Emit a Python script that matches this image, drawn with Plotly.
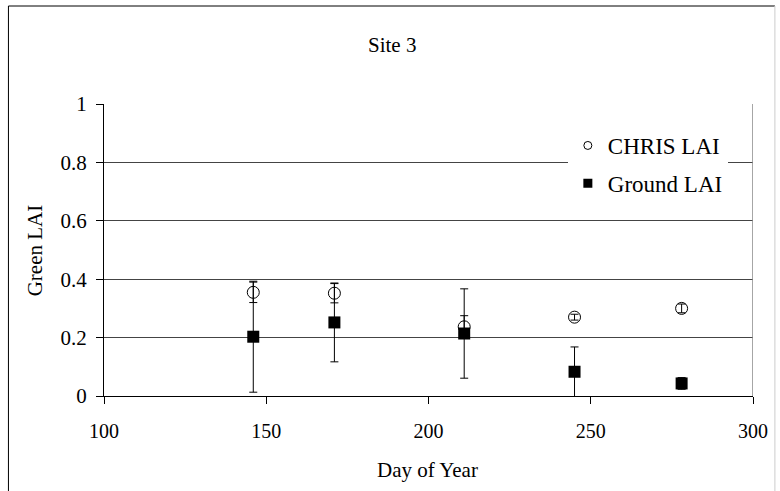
import plotly.graph_objects as go

days = [146, 171, 211, 245, 278]
chris_lai = [0.355, 0.352, 0.237, 0.27, 0.30]
chris_err = [0.035, 0.033, 0.038, 0.01, 0.015]
ground_lai = [0.203, 0.252, 0.214, 0.083, 0.043]
ground_err = [0.19, 0.135, 0.153, 0.085, 0.02]

x_ticks = [100, 150, 200, 250, 300]
y_ticks = [0, 0.2, 0.4, 0.6, 0.8, 1]

FONT = "Times New Roman"

fig = go.Figure()
fig.add_trace(go.Scatter(
    x=days, y=chris_lai, mode="markers", name="CHRIS LAI",
    showlegend=False,
    marker=dict(symbol="circle-open", size=12, color="black", line=dict(width=1, color="black")),
    error_y=dict(type="data", array=chris_err, visible=True, color="black", thickness=1, width=4),
))
fig.add_trace(go.Scatter(
    x=days, y=ground_lai, mode="markers", name="Ground LAI",
    showlegend=False,
    marker=dict(symbol="square", size=12, color="black"),
    error_y=dict(type="data", array=ground_err, visible=True, color="black", thickness=1, width=4),
))
# legend entries (smaller symbols, as in the reference legend)
fig.add_trace(go.Scatter(
    x=[None], y=[None], mode="markers", name="CHRIS LAI", legendgroup="a",
    marker=dict(symbol="circle-open", size=8, color="black", line=dict(width=1, color="black")),
))
fig.add_trace(go.Scatter(
    x=[None], y=[None], mode="markers", name="Ground LAI", legendgroup="b",
    marker=dict(symbol="square", size=9, color="black"),
))

L, R, T, B = 104, 24, 104, 95
W, H = 780, 491
pw, ph = W - L - R, H - T - B

def px(x):
    return (x - L) / pw

def py(y):
    return (H - B - y) / ph

fig.update_layout(
    width=W, height=H,
    margin=dict(l=L, r=R, t=T, b=B),
    paper_bgcolor="white", plot_bgcolor="white",
    font=dict(family=FONT, size=20, color="black"),
    showlegend=True,
    legend=dict(
        x=px(570), y=py(124), xanchor="left", yanchor="top",
        bgcolor="white", borderwidth=0,
        font=dict(family=FONT, size=23, color="black"),
        traceorder="grouped", tracegroupgap=5,
        itemwidth=30,
    ),
    xaxis=dict(
        range=[100, 300], tickvals=x_ticks, ticktext=[str(v) for v in x_ticks],
        showgrid=False, zeroline=False,
        showline=True, linecolor="black", linewidth=1,
        ticks="outside", ticklen=7, tickcolor="black",
        ticklabelstandoff=10,
        tickfont=dict(family=FONT, size=20, color="black"),
    ),
    yaxis=dict(
        range=[0, 1], tickvals=y_ticks, ticktext=["0", "0.2", "0.4", "0.6", "0.8", "1"],
        showgrid=True, gridcolor="#444444", gridwidth=1, zeroline=False,
        showline=True, linecolor="black", linewidth=1,
        ticks="outside", ticklen=7, tickcolor="black",
        ticklabelstandoff=5,
        tickfont=dict(family=FONT, size=21, color="black"),
    ),
    annotations=[
        dict(text="Site 3", x=px(393), y=py(45), xref="paper", yref="paper",
             showarrow=False, font=dict(family=FONT, size=21, color="black"),
             xanchor="center", yanchor="middle"),
        dict(text="Green LAI", x=px(35), y=0.5, xref="paper", yref="paper",
             showarrow=False, textangle=-90, font=dict(family=FONT, size=21, color="black"),
             xanchor="center", yanchor="middle"),
        dict(text="Day of Year", x=px(429), y=py(470), xref="paper", yref="paper",
             showarrow=False, font=dict(family=FONT, size=21, color="black"),
             xanchor="center", yanchor="middle"),
    ],
    shapes=[
        dict(type="line", xref="x", yref="paper", x0=300, x1=300, y0=0, y1=1,
             line=dict(color="#888888", width=1.5)),
        dict(type="line", xref="paper", yref="paper", x0=px(8), x1=px(8), y0=py(6), y1=py(500),
             line=dict(color="black", width=1)),
        dict(type="line", xref="paper", yref="paper", x0=px(8), x1=px(778), y0=py(6), y1=py(6),
             line=dict(color="black", width=1)),
        dict(type="line", xref="paper", yref="paper", x0=px(778), x1=px(778), y0=py(6), y1=py(500),
             line=dict(color="#cccccc", width=1)),
    ],
)

fig.write_html("out.html", config={"displayModeBar": False},
               post_script="document.body.style.margin='0';")
